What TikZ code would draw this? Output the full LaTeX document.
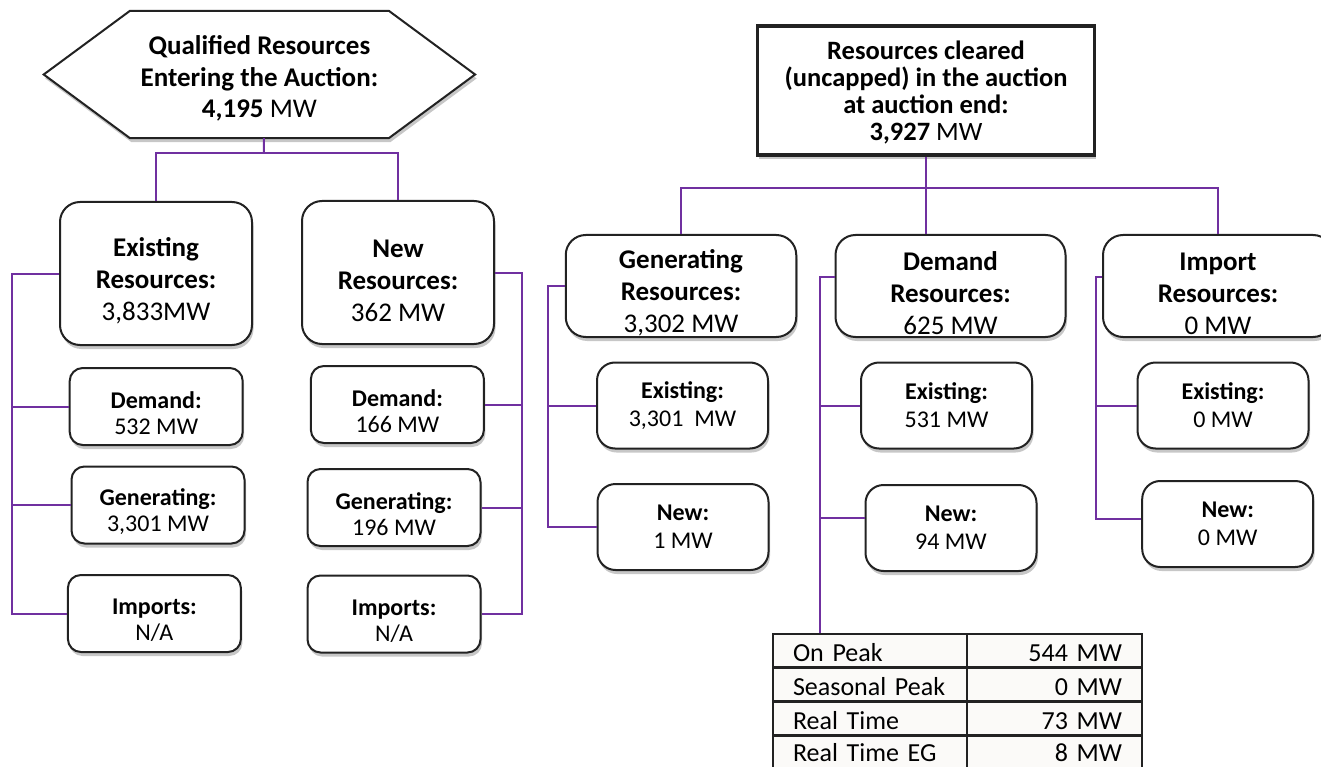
\documentclass[tikz,border=0pt]{standalone}
\usepackage{fontspec}
\setmainfont{Carlito}
\usetikzlibrary{shadows,backgrounds}
\definecolor{connc}{HTML}{7030A0}
\definecolor{bord}{HTML}{222222}
\definecolor{tabbg}{HTML}{FBFAF8}
\newcommand\lift[1]{\rule{0pt}{#1}}
\begin{document}
\begin{tikzpicture}[x=1pt,y=-1pt,
  shad/.style={drop shadow={shadow xshift=1.5pt,shadow yshift=-4pt,opacity=0.22,fill=black}},
  boxbase/.style={draw=bord,line width=2pt,fill=white,align=center,inner sep=0pt,shad},
  bigbox/.style={boxbase,rounded corners=20pt,font=\fontsize{27}{32}\selectfont},
  smallbox/.style={boxbase,rounded corners=13pt,minimum width=173pt,minimum height=77pt,font=\fontsize{24}{26}\selectfont},
  rsmall/.style={boxbase,rounded corners=18pt,minimum width=171pt,minimum height=86pt,font=\fontsize{24}{28}\selectfont},
  conn/.style={draw=connc,line width=2pt},
  tcell/.style={draw=bord,line width=2.5pt,fill=tabbg,minimum height=34pt,inner ysep=0pt,inner xsep=20pt,text height=23pt,text depth=1pt,font=\fontsize{26}{28}\selectfont},
  tleft/.style={tcell,text width=154pt,align=left},
  tright/.style={tcell,text width=135pt,align=right},
  tlast/.style={text height=18pt,text depth=1pt}
]
\path[use as bounding box,clip] (0,0) rectangle (1321,767);

% ---------- left tree ----------
\node[minimum width=431pt,minimum height=127pt,inner sep=0pt,align=center,font=\fontsize{27}{31.5}\selectfont] (q) at (259.4,74.5)
  {\lift{27pt}\textbf{Qualified Resources}\\\textbf{Entering the Auction:}\\\textbf{4,195} MW};
\begin{scope}[on background layer]
\draw[draw=bord,line width=2pt,fill=white,shad] (q.west) -- ([xshift=86.3pt]q.north west) -- ([xshift=-86.3pt]q.north east) -- (q.east) -- ([xshift=-86.3pt]q.south east) -- ([xshift=86.3pt]q.south west) -- cycle;
\end{scope}

\node[bigbox,minimum width=192pt,minimum height=143pt] (ex) at (156,273.5) {\lift{34pt}\textbf{Existing}\\\textbf{Resources:}\\3,833MW};
\node[bigbox,minimum width=192pt,minimum height=143pt] (nw) at (398,272.5) {\lift{34pt}\textbf{New}\\\textbf{Resources:}\\362 MW};

\node[smallbox] (ld) at (156.2,406.5) {\lift{30pt}\textbf{Demand:}\\532 MW};
\node[smallbox] (lg) at (158,505) {\lift{30pt}\textbf{Generating:}\\3,301 MW};
\node[smallbox] (li) at (154.4,613.5) {\lift{30pt}\textbf{Imports:}\\N/A};

\node[smallbox] (nd) at (397.4,404.5) {\lift{30pt}\textbf{Demand:}\\166 MW};
\node[smallbox] (ng) at (394,507.5) {\lift{30pt}\textbf{Generating:}\\196 MW};
\node[smallbox] (ni) at (394,614) {\lift{30pt}\textbf{Imports:}\\N/A};

\coordinate (qb) at ([xshift=4.5pt]q.south);
\coordinate (qj) at (264,153);
\draw[conn] (qb) -- (qj);
\draw[conn] (qj) -| (ex.north);
\draw[conn] (qj) -| (nw.north);

\coordinate (lb) at (12.4,273.5);
\draw[conn] (ex.west) -- (lb) |- (li.west);
\draw[conn] (lb) |- (ld.west);
\draw[conn] (lb) |- (lg.west);

\coordinate (rb) at (521.7,272.5);
\draw[conn] (nw.east) -- (rb) |- (ni.east);
\draw[conn] (rb) |- (nd.east);
\draw[conn] (rb) |- (ng.east);

% ---------- right tree ----------
\node[boxbase,line width=3.5pt,rounded corners=0pt,minimum width=337pt,minimum height=129pt,font=\fontsize{26.5}{27}\selectfont] (tr) at (926,90.5)
  {\lift{22pt}\textbf{Resources cleared}\\\textbf{(uncapped) in the auction}\\\textbf{at auction end:}\\\textbf{3,927} MW};

\node[bigbox,minimum width=230.5pt,minimum height=102pt] (gen) at (681,286) {\lift{33pt}\textbf{Generating}\\\textbf{Resources:}\\3,302 MW};
\node[bigbox,minimum width=230pt,minimum height=102pt] (dem) at (950.5,286) {\lift{33pt}\textbf{Demand}\\\textbf{Resources:}\\625 MW};
\node[bigbox,minimum width=230pt,minimum height=102pt] (imp) at (1218,286) {\lift{33pt}\textbf{Import}\\\textbf{Resources:}\\0 MW};

\node[rsmall] (ge) at (682.5,405.5) {\textbf{Existing:}\\3,301\ \ MW};
\node[rsmall] (gn) at (683,527) {\textbf{New:}\\1 MW};
\node[rsmall] (de) at (946.5,405.5) {\textbf{Existing:}\\531 MW};
\node[rsmall] (dn) at (951,528) {\textbf{New:}\\94 MW};
\node[rsmall] (ie) at (1223,405.5) {\textbf{Existing:}\\0 MW};
\node[rsmall] (in) at (1227.7,524) {\textbf{New:}\\0 MW};

% table
\node[tleft]  (t11) at (870,650.75) {On Peak};
\node[tright] (t12) at (1054.5,650.75) {544 MW};
\node[tleft]  (t21) at (870,684.25) {Seasonal Peak};
\node[tright] (t22) at (1054.5,684.25) {0 MW};
\node[tleft]  (t31) at (870,718.25) {Real Time};
\node[tright] (t32) at (1054.5,718.25) {73 MW};
\node[tleft,tlast]  (t41) at (870,752.75) {Real Time EG};
\node[tright,tlast] (t42) at (1054.5,752.75) {8 MW};

\coordinate (tj) at (926,188);
\draw[conn] (tr.south) -- (tj);
\draw[conn] (tj) -| (gen.north);
\draw[conn] (tj) -| (imp.north);
\draw[conn] (tj) -- (tj |- dem.north);

\coordinate (gb) at (547.5,286);
\draw[conn] (gen.west) -- (gb) |- (gn.west);
\draw[conn] (gb) |- (ge.west);

\coordinate (db) at (820,277);
\draw[conn] (db -| dem.west) -- (db) -- (db |- t11.north);
\draw[conn] (db) |- (de.west);
\draw[conn] (820,518) -- (820,518 -| dn.west);

\coordinate (ib) at (1096,277);
\draw[conn] (ib -| imp.west) -- (ib) -- (1096,519) -- (1096,519 -| in.west);
\draw[conn] (ib) |- (ie.west);
\end{tikzpicture}
\end{document}
